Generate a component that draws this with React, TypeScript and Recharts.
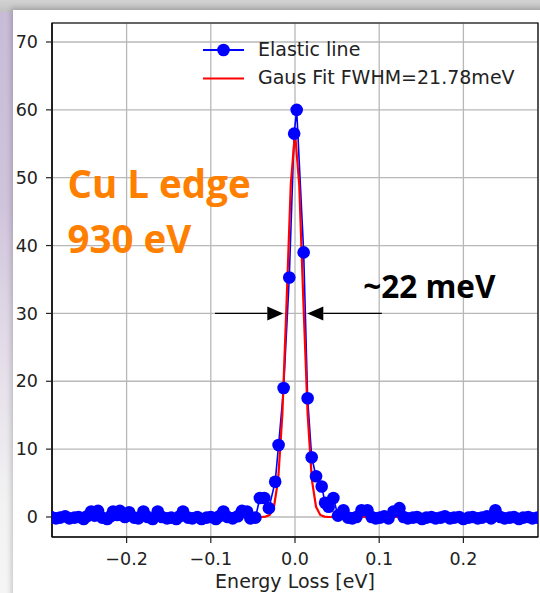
import React from 'react';
import {
  ComposedChart,
  Line,
  XAxis,
  YAxis,
  CartesianGrid,
  ReferenceLine,
  ReferenceArea,
  ReferenceDot,
  Label,
} from 'recharts';

// Measured elastic line (energy loss in eV, intensity)
const energyLoss = [
  -0.295, -0.29, -0.284, -0.279, -0.273, -0.268, -0.262, -0.257, -0.251, -0.247,
  -0.242, -0.238, -0.234, -0.229, -0.223, -0.219, -0.216, -0.211, -0.208, -0.202,
  -0.197, -0.191, -0.186, -0.18, -0.175, -0.169, -0.163, -0.158, -0.152, -0.147,
  -0.141, -0.137, -0.133, -0.127, -0.122, -0.116, -0.111, -0.105, -0.1, -0.094,
  -0.09, -0.085, -0.08, -0.074, -0.068, -0.063, -0.057, -0.053, -0.047, -0.0417,
  -0.0365, -0.031, -0.0235, -0.0195, -0.0135, -0.0068, -0.001, 0.002, 0.0103, 0.015,
  0.0198, 0.025, 0.0317, 0.0357, 0.04, 0.0456, 0.051, 0.0575, 0.063, 0.068,
  0.073, 0.079, 0.086, 0.091, 0.096, 0.101, 0.106, 0.111, 0.117, 0.124,
  0.129, 0.134, 0.14, 0.145, 0.151, 0.156, 0.162, 0.167, 0.173, 0.178,
  0.184, 0.189, 0.195, 0.2, 0.206, 0.211, 0.217, 0.222, 0.228, 0.233,
  0.238, 0.244, 0.249, 0.255, 0.26, 0.266, 0.271, 0.277, 0.282, 0.288,
  0.293,
];

const intensity = [
  -0.1, 0.0, -0.2, -0.1, 0.1, -0.2, -0.1, 0.0, -0.3, 0.1,
  0.8, 0.2, 0.9, -0.1, -0.3, 0.1, 0.8, 0.3, 0.9, 0.0,
  0.7, -0.1, -0.2, 0.8, 0.0, -0.3, 0.8, 0.0, -0.2, -0.1,
  -0.3, 0.1, 0.8, -0.1, -0.2, 0.0, -0.3, -0.1, 0.0, -0.3,
  0.1, 0.8, 0.0, -0.2, 0.1, 0.9, 0.8, -0.2, -0.1, 2.8,
  2.8, 1.3, 5.2, 10.6, 19.0, 35.3, 56.5, 60.0, 39.0, 17.5,
  8.8, 6.0, 4.5, 2.1, 1.5, 2.8, 0.2, 1.0, -0.1, -0.2,
  0.0, 1.0, 1.0, 0.0, -0.2, -0.1, 0.1, -0.2, 0.8, 1.3,
  0.0, -0.2, -0.1, 0.0, -0.3, -0.1, 0.0, -0.2, -0.1, 0.1,
  -0.2, -0.1, 0.0, -0.3, -0.1, 0.0, -0.2, -0.1, 0.1, -0.2,
  1.0, 0.0, -0.2, -0.1, 0.0, -0.3, -0.1, 0.0, -0.2, -0.1,
  0.0,
];

// Gaussian fit (FWHM = 21.78 meV) sampled on a 5 meV grid
const fitEnergy = [
  -0.295, -0.04, -0.035, -0.03, -0.025, -0.02, -0.015, -0.01, -0.005, 0,
  0.005, 0.01, 0.015, 0.02, 0.025, 0.03, 0.035, 0.04, 0.295,
];
const fitIntensity = [
  0, 0.0, 0.05, 0.3, 1.5, 5.5, 15.2, 31.6, 49.0, 56.7,
  49.0, 31.6, 15.2, 5.5, 1.5, 0.3, 0.05, 0.0, 0,
];

const xTicks = [-0.2, -0.1, 0, 0.1, 0.2];
const yTicks = [0, 10, 20, 30, 40, 50, 60, 70];
const xDomain: [number, number] = [-0.2886, 0.2886];
const yDomain: [number, number] = [-2.95, 72.8];

const elasticData = energyLoss.map((x, i) => ({ x, y: intensity[i] }));
const fitData = fitEnergy.map((x, i) => ({ x, y: fitIntensity[i] }));

const MPL_FONT = '"DejaVu Sans", Verdana, sans-serif';
const SLIDE_FONT = '"Open Sans", Lato, sans-serif';

const tickStyle = { fontFamily: MPL_FONT, fontSize: 17.5, fill: '#222' };

const formatX = (v: number) => {
  if (v === 0) return '0.0';
  return v < 0 ? '\u2212' + Math.abs(v).toFixed(1) : v.toFixed(1);
};

// Horizontal arrow pointing from (x1,y1) to (x2,y2)
const arrowShape = (props: any) => {
  const { x1, y1, x2, y2 } = props;
  const dir = x2 > x1 ? 1 : -1;
  const head = 16;
  const half = 7;
  const bx = x2 - dir * head;
  return (
    <g>
      <line x1={x1} y1={y1} x2={bx} y2={y2} stroke="#000" strokeWidth={1.4} />
      <polygon points={`${x2},${y2} ${bx},${y2 - half} ${bx},${y2 + half}`} fill="#000" />
    </g>
  );
};

const textShape = (text: string, color: string, size: number) => (props: any) => (
  <text
    x={props.cx}
    y={props.cy}
    fill={color}
    fontFamily={SLIDE_FONT}
    fontWeight={700}
    fontSize={size}
    textAnchor="start"
  >
    {text}
  </text>
);

const Legend = () => (
  <svg
    width={540}
    height={100}
    style={{ position: 'absolute', left: 0, top: 0, pointerEvents: 'none' }}
  >
    <line x1={203} y1={50} x2={244} y2={50} stroke="#0000ff" strokeWidth={1.8} />
    <circle cx={223.5} cy={50} r={6.3} fill="#0000ff" />
    <text x={258} y={55.8} fontFamily={MPL_FONT} fontSize={19} fill="#222">
      Elastic line
    </text>
    <line x1={203} y1={78.5} x2={244} y2={78.5} stroke="#ff0000" strokeWidth={2.2} />
    <text x={258} y={84.4} fontFamily={MPL_FONT} fontSize={19} fill="#222">
      Gaus Fit FWHM=21.78meV
    </text>
  </svg>
);

export default function App() {
  return (
    <div
      style={{
        position: 'fixed',
        left: 0,
        top: 0,
        width: 540,
        height: 593,
        overflow: 'hidden',
        background:
          'linear-gradient(to bottom, #c8bbd6 0%, #d0c4dc 35%, #e4dde9 60%, #f2f2f2 85%, #f5f5f5 100%)',
      }}
    >
      <div
        style={{
          position: 'absolute',
          left: 0,
          top: 0,
          width: 540,
          height: 12,
          background: 'linear-gradient(to bottom, #d2d2d2, #c2c2c2)',
        }}
      />
      <div
        style={{
          position: 'absolute',
          left: 13,
          top: 10,
          width: 540,
          height: 600,
          background: '#ffffff',
          boxShadow: '-2px -2px 5px rgba(0,0,0,0.18)',
        }}
      />
      <div style={{ position: 'absolute', left: 0, top: 0 }}>
        <ComposedChart
          width={540}
          height={593}
          margin={{ top: 23, right: 2, left: 0, bottom: 0 }}
        >
          <CartesianGrid stroke="#b8b8b8" strokeWidth={1.3} />
          <XAxis
            dataKey="x"
            type="number"
            domain={xDomain}
            ticks={xTicks}
            allowDataOverflow
            height={56}
            tickSize={6}
            tickMargin={10}
            tick={tickStyle}
            tickFormatter={formatX}
            axisLine={{ stroke: '#000', strokeWidth: 1.2 }}
            tickLine={{ stroke: '#222', strokeWidth: 1.2 }}
          >
            <Label
              content={(p: any) => {
                const vb = p.viewBox || { x: 52, y: 537, width: 486, height: 56 };
                return (
                  <text
                    x={vb.x + vb.width / 2}
                    y={vb.y + vb.height - 5}
                    textAnchor="middle"
                    fontFamily={MPL_FONT}
                    fontSize={19}
                    fill="#222"
                  >
                    Energy Loss [eV]
                  </text>
                );
              }}
            />
          </XAxis>
          <YAxis
            type="number"
            domain={yDomain}
            ticks={yTicks}
            allowDataOverflow
            width={52}
            tickSize={6}
            tickMargin={8}
            tick={tickStyle}
            axisLine={{ stroke: '#000', strokeWidth: 1.2 }}
            tickLine={{ stroke: '#222', strokeWidth: 1.2 }}
          />
          <Line
            data={elasticData}
            dataKey="y"
            type="linear"
            stroke="#0000ff"
            strokeWidth={1.6}
            dot={{ r: 6.3, fill: '#0000ff', stroke: 'none' }}
            activeDot={false}
            isAnimationActive={false}
          />
          <Line
            data={fitData}
            dataKey="y"
            type="linear"
            stroke="#ff0000"
            strokeWidth={2.2}
            dot={false}
            activeDot={false}
            isAnimationActive={false}
          />
          <ReferenceArea
            x1={xDomain[0]}
            x2={xDomain[1]}
            y1={yDomain[0]}
            y2={yDomain[1]}
            fill="none"
            stroke="#000"
            strokeWidth={1.2}
            ifOverflow="visible"
          />
          <ReferenceLine
            segment={[{ x: -0.095, y: 30 }, { x: -0.0139, y: 30 }]}
            shape={arrowShape}
            ifOverflow="visible"
          />
          <ReferenceLine
            segment={[{ x: 0.1032, y: 30 }, { x: 0.0146, y: 30 }]}
            shape={arrowShape}
            ifOverflow="visible"
          />
          <ReferenceDot x={-0.2702} y={47.0} ifOverflow="visible" shape={textShape('Cu L edge', '#ff7f00', 38.5)} />
          <ReferenceDot x={-0.2702} y={38.9} ifOverflow="visible" shape={textShape('930 eV', '#ff7f00', 38.5)} />
          <ReferenceDot x={0.081} y={32.3} ifOverflow="visible" shape={textShape('~22 meV', '#000000', 31.5)} />
        </ComposedChart>
      </div>
      <Legend />
    </div>
  );
}
